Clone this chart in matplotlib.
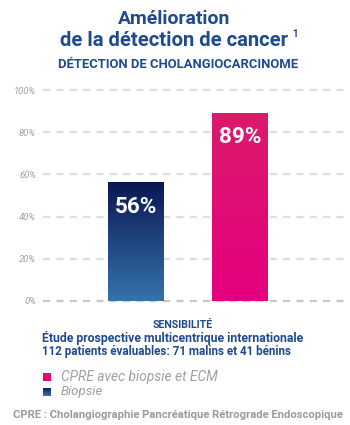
import matplotlib
matplotlib.use("Agg")
import matplotlib.pyplot as plt
import numpy as np
from matplotlib.colors import LinearSegmentedColormap

# Data
categories = ["Biopsie", "CPRE avec biopsie et ECM"]
values = [56, 89]
value_labels = ["56%", "89%"]
yticks = [0, 20, 40, 60, 80, 100]
ytick_labels = ["0%", "20%", "40%", "60%", "80%", "100%"]

title_blue = "#1f4b8e"
grey_txt = "#9a9a9a"
grads = [("#0a1752", "#3673ab"), ("#db1b6c", "#e5007f")]

plt.rcParams['font.family'] = ['Roboto', 'DejaVu Sans']

fig = plt.figure(figsize=(3.5, 4.25), dpi=100)
W, H = 350, 425
renderer = fig.canvas.get_renderer()


def fit_text(x0, x1, yc, s, size, **kw):
    """Place text spanning pixel x0..x1, centred vertically at pixel yc."""
    t = fig.text(x0 / W, 1 - yc / H, s, ha="left", va="center", fontsize=size, **kw)
    w = t.get_window_extent(renderer).width
    t.set_fontsize(size * (x1 - x0) / w)
    return t


ax = fig.add_axes([43 / W, (H - 301) / H, 302 / W, 211 / H])
ax.set_xlim(-0.894, 2.01)
ax.set_ylim(0, 100)
for s in ax.spines.values():
    s.set_visible(False)
ax.set_xticks([])
ax.set_yticks(yticks)
ax.set_yticklabels(ytick_labels, fontsize=6.8, color="#a0a0a0", style="italic")
ax.tick_params(axis="y", length=0, pad=5)

for y in yticks:
    ax.axhline(y, color="#c8c8c8" if y == 0 else "#dedede", lw=1.6,
               ls=(0, (3.2, 2.8)), zorder=1, clip_on=False)

xs = [0, 1]
width = 0.538
for x, v, (ctop, cbot), lab in zip(xs, values, grads, value_labels):
    cmap = LinearSegmentedColormap.from_list("g", [cbot, ctop])
    grad = np.linspace(0, 1, 256).reshape(-1, 1)
    ax.imshow(grad, cmap=cmap, origin="lower", aspect="auto",
              extent=[x - width / 2, x + width / 2, 0, v], zorder=2)
    ax.text(x, v - 11.5, lab, ha="center", va="center", color="white",
            fontsize=16.2, fontweight="bold", zorder=3)
ax.set_xlim(-0.894, 2.01)
ax.set_ylim(0, 100)

# Titles
fit_text(118, 231, 19, "Amélioration", 13, fontweight="bold", color=title_blue)
fit_text(60, 288, 41, "de la détection de cancer", 13, fontweight="bold", color=title_blue)
fig.text(295 / W, 1 - 34 / H, "1", ha="center", va="center",
         fontsize=7, fontweight="bold", color=title_blue)
fit_text(58, 297, 64, "DÉTECTION DE CHOLANGIOCARCINOME", 7.6,
         fontweight="bold", color=title_blue)

# Bottom texts
fit_text(153, 213, 325, "SENSIBILITÉ", 7.6, fontweight="bold", color=title_blue)
fit_text(42, 307, 338, "Étude prospective multicentrique internationale", 7.9,
         fontweight="bold", color=title_blue)
fit_text(42, 293, 351, "112 patients évaluables: 71 malins et 41 bénins", 7.9,
         fontweight="bold", color=title_blue)

# Legend
leg_items = [(categories[1], grads[1], 377, 217), (categories[0], grads[0], 392, 103)]
for name, (ctop, cbot), yc, xend in leg_items:
    lax = fig.add_axes([43 / W, (H - yc - 4.5) / H, 8 / W, 9 / H])
    cmap = LinearSegmentedColormap.from_list("g", [cbot, ctop])
    lax.imshow(np.linspace(0, 1, 64).reshape(-1, 1), cmap=cmap, origin="lower",
               aspect="auto")
    lax.axis("off")
    fit_text(61, xend, yc, name, 8.5, style="italic", color="#a0a0a0")

fit_text(13, 343, 415, "CPRE : Cholangiographie Pancréatique Rétrograde Endoscopique",
         7.2, fontweight="bold", color=grey_txt)

fig.savefig("out.png", dpi=100)
